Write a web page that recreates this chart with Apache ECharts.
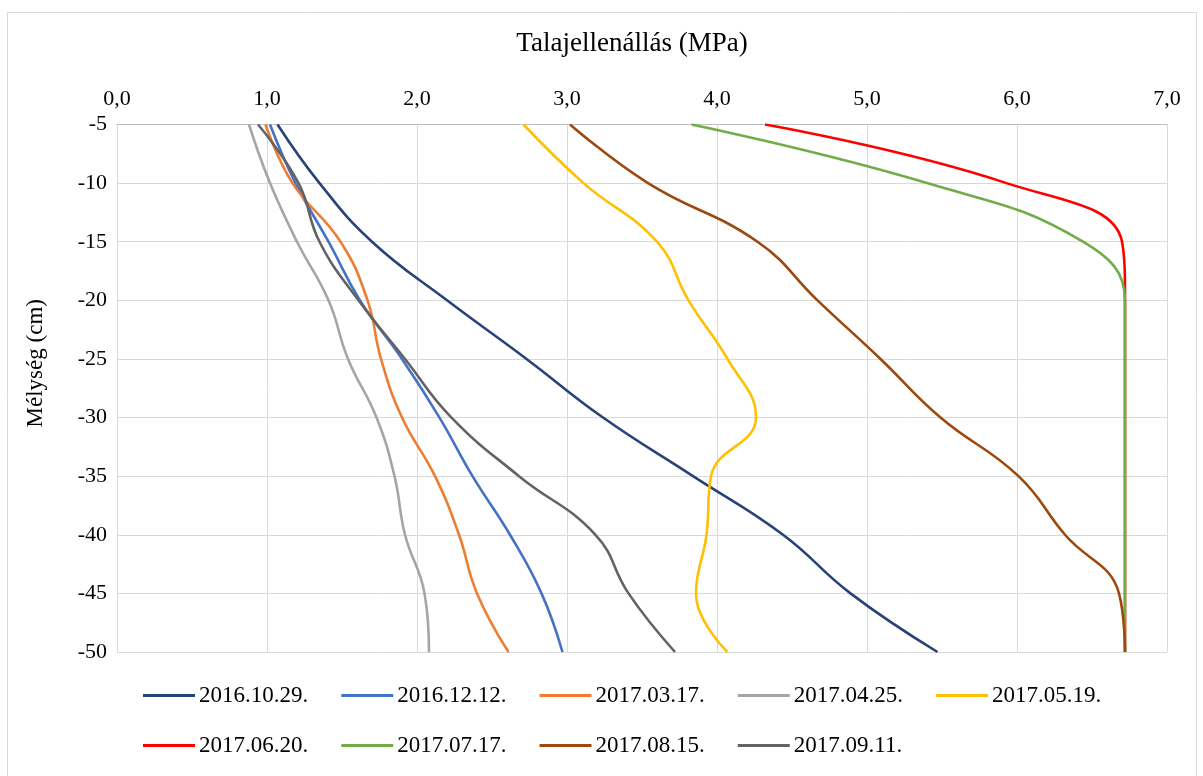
<!DOCTYPE html>
<html>
<head>
<meta charset="utf-8">
<script src="https://cdn.jsdelivr.net/npm/echarts@6/dist/echarts.min.js"></script>
<style>
html,body{margin:0;padding:0;background:#fff;}
#chart{width:1203px;height:776px;}
</style>
</head>
<body>
<div id="chart"></div>
<script>
// Depths (cm)
const depths = [-5, -10, -15, -20, -25, -30, -35, -40, -45, -50];
// Soil resistance (MPa) per date
const s20161029 = [1.07, 1.35, 1.70, 2.20, 2.73, 3.24, 3.84, 4.44, 4.89, 5.47];
const s20161212 = [1.02, 1.19, 1.41, 1.62, 1.90, 2.15, 2.37, 2.62, 2.83, 2.97];
const s20170317 = [0.99, 1.17, 1.49, 1.67, 1.76, 1.90, 2.12, 2.28, 2.40, 2.61];
const s20170425 = [0.88, 1.02, 1.20, 1.41, 1.54, 1.73, 1.85, 1.92, 2.05, 2.08];
const s20170519 = [2.71, 3.11, 3.60, 3.81, 4.07, 4.26, 3.96, 3.93, 3.86, 4.07];
const s20170620 = [4.32, 5.93, 6.70, 6.72, 6.72, 6.72, 6.72, 6.72, 6.72, 6.72];
const s20170717 = [3.83, 5.40, 6.44, 6.72, 6.72, 6.72, 6.72, 6.72, 6.72, 6.72];
const s20170815 = [3.02, 3.54, 4.27, 4.67, 5.09, 5.49, 6.01, 6.32, 6.68, 6.72];
const s20170911 = [0.94, 1.21, 1.35, 1.61, 1.92, 2.23, 2.68, 3.19, 3.41, 3.72];

const names = ['2016.10.29.', '2016.12.12.', '2017.03.17.', '2017.04.25.', '2017.05.19.',
               '2017.06.20.', '2017.07.17.', '2017.08.15.', '2017.09.11.'];
const values = [s20161029, s20161212, s20170317, s20170425, s20170519,
                s20170620, s20170717, s20170815, s20170911];
const colors = ['#264478', '#4472C4', '#ED7D31', '#A5A5A5', '#FFC000',
                '#FF0000', '#70AD47', '#9E480E', '#636363'];
const xTicksMin = 0, xTicksMax = 7, yMin = -50, yMax = -5;

const FONT = '"Liberation Serif", "Times New Roman", serif';

const chart = echarts.init(document.getElementById('chart'));

const series = names.map((n, i) => ({
  name: n,
  type: 'line',
  smooth: 0.45,
  showSymbol: false,
  symbol: 'none',
  color: colors[i],
  lineStyle: { width: 2.6, color: colors[i] },
  data: values[i].map((v, k) => [v, depths[k]])
}));

const legendCommon = {
  left: 143,
  orient: 'horizontal',
  itemGap: 33,
  itemWidth: 52,
  itemHeight: 3,
  icon: 'rect',
  padding: 0,
  textStyle: { fontFamily: FONT, fontSize: 23, color: '#000', padding: [0, 0, 0, -1] }
};

chart.setOption({
  backgroundColor: '#fff',
  animation: false,
  graphic: [{
    type: 'rect',
    shape: { x: 7.5, y: 12.5, width: 1189, height: 800 },
    style: { fill: 'none', stroke: '#D9D9D9', lineWidth: 1 },
    silent: true
  }],
  grid: { left: 117, right: 36, top: 124.5, bottom: 124, containLabel: false },
  xAxis: {
    type: 'value',
    position: 'top',
    min: xTicksMin, max: xTicksMax, interval: 1,
    name: 'Talajellenállás (MPa)',
    nameLocation: 'middle',
    nameGap: 67,
    nameTextStyle: { fontFamily: FONT, fontSize: 27, color: '#000', padding: [0, 20, 0, 0] },
    axisLine: { show: true, lineStyle: { color: '#BFBFBF', width: 1 } },
    axisTick: { show: false },
    axisLabel: {
      fontFamily: FONT, fontSize: 22, color: '#000', margin: 14,
      formatter: v => v.toFixed(1).replace('.', ',')
    },
    splitLine: { show: true, lineStyle: { color: '#D9D9D9', width: 1 } }
  },
  yAxis: {
    type: 'value',
    min: yMin, max: yMax, interval: 5,
    name: 'Mélység (cm)',
    nameLocation: 'middle',
    nameGap: 70,
    nameTextStyle: { fontFamily: FONT, fontSize: 23, color: '#000', padding: [0, 0, 0, 50] },
    axisLine: { show: true, lineStyle: { color: '#D9D9D9', width: 1 } },
    axisTick: { show: false },
    axisLabel: { fontFamily: FONT, fontSize: 22, color: '#000', margin: 10 },
    splitLine: { show: true, lineStyle: { color: '#D9D9D9', width: 1 } }
  },
  legend: [
    Object.assign({ top: 684, data: names.slice(0, 5) }, legendCommon),
    Object.assign({ top: 734, data: names.slice(5) }, legendCommon)
  ],
  series: series
});
</script>
</body>
</html>
